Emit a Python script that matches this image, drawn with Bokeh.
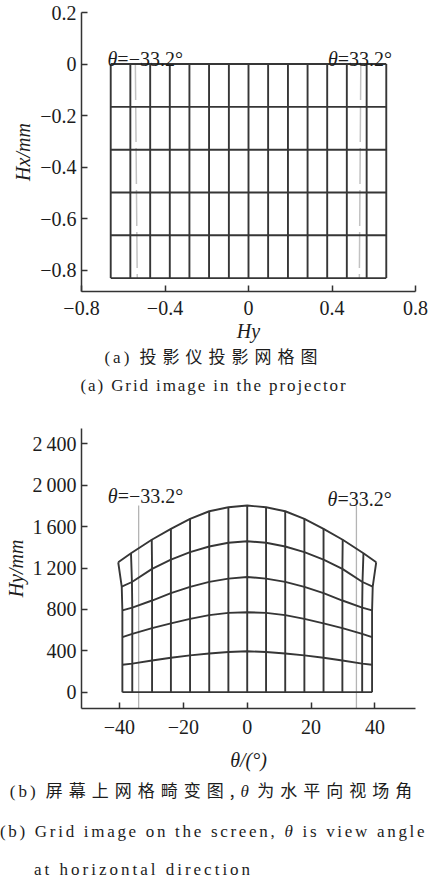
from bokeh.plotting import figure
from bokeh.models import Range1d, FixedTicker, Label, Div
from bokeh.layouts import column
from bokeh.embed import file_html
from bokeh.resources import INLINE

# ---------------- data: panel (a) grid in the projector ----------------
a_cols = [-0.660, -0.566, -0.471, -0.377, -0.283, -0.189, -0.094, 0.0,
          0.094, 0.189, 0.283, 0.377, 0.471, 0.566, 0.660]
a_rows = [0.0, -0.166, -0.332, -0.498, -0.664, -0.830]
a_fov_x_top = [-0.542, 0.538]
a_fov_x_bottom = [-0.533, 0.531]
a_fov_y = [0.0, -0.830]
a_fov_text = ["=\u221233.2\u00b0", "=33.2\u00b0"]
a_fov_text_y = [0.02, 0.02]
a_xticks = [-0.8, -0.4, 0, 0.4, 0.8]
a_xtick_labels = ["\u22120.8", "\u22120.4", "0", "0.4", "0.8"]
a_yticks = [0.2, 0, -0.2, -0.4, -0.6, -0.8]
a_ytick_labels = ["0.2", "0", "\u22120.2", "\u22120.4", "\u22120.6", "\u22120.8"]

# ---------------- data: panel (b) grid on the screen ----------------
b_x = [
    [-39.1, -36.0, -29.8, -23.9, -17.9, -11.9, -5.9, 0.0, 5.9, 11.9, 17.9, 23.9, 29.8, 36.0, 39.1],
    [-39.1, -36.0, -29.8, -23.9, -17.9, -11.9, -5.9, 0.0, 5.9, 11.9, 17.9, 23.9, 29.8, 36.0, 39.1],
    [-39.1, -36.0, -29.8, -23.9, -17.9, -11.9, -5.9, 0.0, 5.9, 11.9, 17.9, 23.9, 29.8, 36.0, 39.1],
    [-39.1, -36.0, -29.8, -23.9, -17.9, -11.9, -5.9, 0.0, 5.9, 11.9, 17.9, 23.9, 29.8, 36.0, 39.1],
    [-39.3, -36.1, -29.8, -23.9, -17.9, -11.9, -5.9, 0.0, 5.9, 11.9, 17.9, 23.9, 29.8, 36.1, 39.3],
    [-40.4, -36.4, -29.9, -23.9, -17.9, -11.9, -5.9, 0.0, 5.9, 11.9, 17.9, 23.9, 29.9, 36.4, 40.4],
]
b_hy = [
    [0, 0, 0, 0, 0, 0, 0, 0, 0, 0, 0, 0, 0, 0, 0],
    [265, 276, 306, 333, 356, 374, 388, 396, 388, 374, 356, 333, 306, 276, 265],
    [532, 564, 619, 665, 709, 745, 766, 773, 766, 745, 709, 665, 619, 564, 532],
    [790, 818, 886, 957, 1018, 1066, 1098, 1114, 1098, 1066, 1018, 957, 886, 818, 790],
    [1020, 1065, 1192, 1282, 1353, 1408, 1444, 1459, 1444, 1408, 1353, 1282, 1192, 1065, 1020],
    [1256, 1343, 1473, 1579, 1676, 1749, 1788, 1804, 1788, 1749, 1676, 1579, 1473, 1343, 1256],
]
b_fov_x = [-34.0, 34.2]
b_fov_y = [-158, 1805]
b_fov_text = ["=\u221233.2\u00b0", "=33.2\u00b0"]
b_fov_text_y = [1900, 1870]
b_xticks = [-40, -20, 0, 20, 40]
b_xtick_labels = ["\u221240", "\u221220", "0", "20", "40"]
b_yticks = [0, 400, 800, 1200, 1600, 2000, 2400]
b_ytick_labels = ["0", "400", "800", "1\u2009200", "1\u2009600", "2\u2009000", "2\u2009400"]

cap_a_cn = "投影仪投影网格图"
cap_a_en = "Grid image in the projector"
cap_b_cn_1 = "屏幕上网格畸变图,"
cap_b_cn_2 = "为水平向视场角"
cap_b_en_1 = "Grid image on the screen,"
cap_b_en_2 = "is view angle"
cap_b_en_3 = "at horizontal direction"

# ---------------- styles ----------------
SERIF = "'Liberation Serif', 'Times New Roman', serif"
INK = "#1c1c1c"
GRID = "#363636"
FS = "20px"
W = 428


def style_axes(p, xticks, xlabels, yticks, ylabels):
    p.xgrid.visible = False
    p.ygrid.visible = False
    p.outline_line_color = None
    p.background_fill_color = "white"
    p.border_fill_color = "white"
    for ax in (p.xaxis[0], p.yaxis[0]):
        ax.axis_line_color = "#333333"
        ax.axis_line_width = 1.5
        ax.major_tick_line_color = "#333333"
        ax.major_tick_line_width = 1.5
        ax.major_tick_in = 6
        ax.major_tick_out = 0
        ax.minor_tick_line_color = None
        ax.major_label_text_font = SERIF
        ax.major_label_text_font_size = FS
        ax.major_label_text_color = INK
        ax.axis_label_text_font = SERIF
        ax.axis_label_text_font_size = FS
        ax.axis_label_text_font_style = "italic"
        ax.axis_label_text_color = INK
    p.xaxis[0].ticker = FixedTicker(ticks=xticks)
    p.xaxis[0].major_label_overrides = dict(zip(xticks, xlabels))
    p.yaxis[0].ticker = FixedTicker(ticks=yticks)
    p.yaxis[0].major_label_overrides = dict(zip(yticks, ylabels))
    p.yaxis[0].major_label_standoff = 5


def add_label(p, text, x, y, align, italic, x_off=0):
    p.add_layout(Label(x=x, y=y, text=text, x_offset=x_off,
                       text_align=align, text_baseline="alphabetic",
                       text_font=SERIF, text_font_size=FS,
                       text_font_style="italic" if italic else "normal",
                       text_color=INK))


# ---------------- panel (a) ----------------
pa = figure(width=W, height=346, output_backend="svg", toolbar_location=None,
            x_range=Range1d(-0.8, 0.8), y_range=Range1d(-0.882, 0.2),
            min_border_left=74, min_border_right=13, min_border_top=12, min_border_bottom=55,
            x_axis_label="Hy", y_axis_label="Hx/mm")
style_axes(pa, a_xticks, a_xtick_labels, a_yticks, a_ytick_labels)
pa.xaxis[0].major_label_standoff = 9
pa.xaxis[0].axis_label_standoff = 2
pa.yaxis[0].axis_label_standoff = 3

pa.multi_line(xs=[[t, b] for t, b in zip(a_fov_x_top, a_fov_x_bottom)],
              ys=[a_fov_y for _ in a_fov_x_top],
              line_color="#c2c2c2", line_width=1.5, line_dash="36 6")
pa.multi_line(xs=[[c, c] for c in a_cols], ys=[[a_rows[0], a_rows[-1]] for _ in a_cols],
              line_color=GRID, line_width=1.9)
pa.multi_line(xs=[[a_cols[0], a_cols[-1]] for _ in a_rows], ys=[[r, r] for r in a_rows],
              line_color=GRID, line_width=1.9)

for gx, txt, ty, off in zip(a_fov_x_top, a_fov_text, a_fov_text_y, [-18, -23]):
    add_label(pa, "\u03b8", gx, ty, "right", True, x_off=off)
    add_label(pa, txt, gx, ty, "left", False, x_off=off)

# ---------------- panel (b) ----------------
pb = figure(width=W, height=369, output_backend="svg", toolbar_location=None,
            x_range=Range1d(-51.9, 52.7), y_range=Range1d(-158, 2549),
            min_border_left=81, min_border_right=4, min_border_top=22, min_border_bottom=67,
            x_axis_label="\u03b8/(\u00b0)", y_axis_label="Hy/mm")
style_axes(pb, b_xticks, b_xtick_labels, b_yticks, b_ytick_labels)
pb.xaxis[0].major_label_standoff = 11
pb.xaxis[0].axis_label_standoff = 12
pb.yaxis[0].axis_label_standoff = 2

pb.multi_line(xs=[[x, x] for x in b_fov_x], ys=[b_fov_y for _ in b_fov_x],
              line_color="#b4b4b4", line_width=1.3)
pb.multi_line(xs=b_x, ys=b_hy, line_color=GRID, line_width=1.9)
ncol = len(b_x[0])
pb.multi_line(xs=[[row[j] for row in b_x] for j in range(ncol)],
              ys=[[row[j] for row in b_hy] for j in range(ncol)],
              line_color=GRID, line_width=1.9)

for gx, txt, ty, off in zip(b_fov_x, b_fov_text, b_fov_text_y, [-21, -19]):
    add_label(pb, "\u03b8", gx, ty, "right", True, x_off=off)
    add_label(pb, txt, gx, ty, "left", False, x_off=off)


# ---------------- captions ----------------
def caption(html, h, align="center", pad_left=0):
    inner = (f'<div style="box-sizing:border-box;width:{W}px;height:{h}px;line-height:{h}px;'
             f'padding-left:{pad_left}px;white-space:nowrap;display:block;'
             f'text-align:{align};color:{INK};font-family:\'Liberation Serif\',\'Noto Sans CJK SC\';">'
             f'{html}</div>')
    return Div(text=inner, width=W, height=h, margin=(0, 0, 0, 0))


def cn_span(t, ls=6):
    return (f'<span style="font-family:\'Noto Sans CJK SC\';font-size:17px;'
            f'letter-spacing:{ls}px;">{t}</span>')


def en_span(t, ls, italic=False):
    st = "font-style:italic;" if italic else ""
    return f'<span style="font-size:17px;letter-spacing:{ls}px;{st}">{t}</span>'


d_a_cn = caption(en_span("(a)", 3) + en_span("&nbsp;", 3) + cn_span(cap_a_cn, 6), 20)
d_a_en = caption(en_span("(a) " + cap_a_en, 1.9), 40)
d_b_cn = caption(en_span("(b)", 3) + en_span("&nbsp;", 3) + cn_span(cap_b_cn_1)
                 + en_span("\u03b8", 3, italic=True) + en_span("&nbsp;", 1) + cn_span(cap_b_cn_2), 30)
d_b_en = caption(en_span("(b) " + cap_b_en_1 + " ", 2.7) + en_span("\u03b8", 2.7, italic=True)
                 + en_span(" " + cap_b_en_2, 2.7), 54, align="left")
d_b_en3 = caption(en_span(cap_b_en_3, 3.0), 21, align="left", pad_left=34)

layout = column(pa, d_a_cn, d_a_en, pb, d_b_cn, d_b_en, d_b_en3, spacing=0)

with open("out.html", "w") as f:
    f.write(file_html(layout, INLINE))
